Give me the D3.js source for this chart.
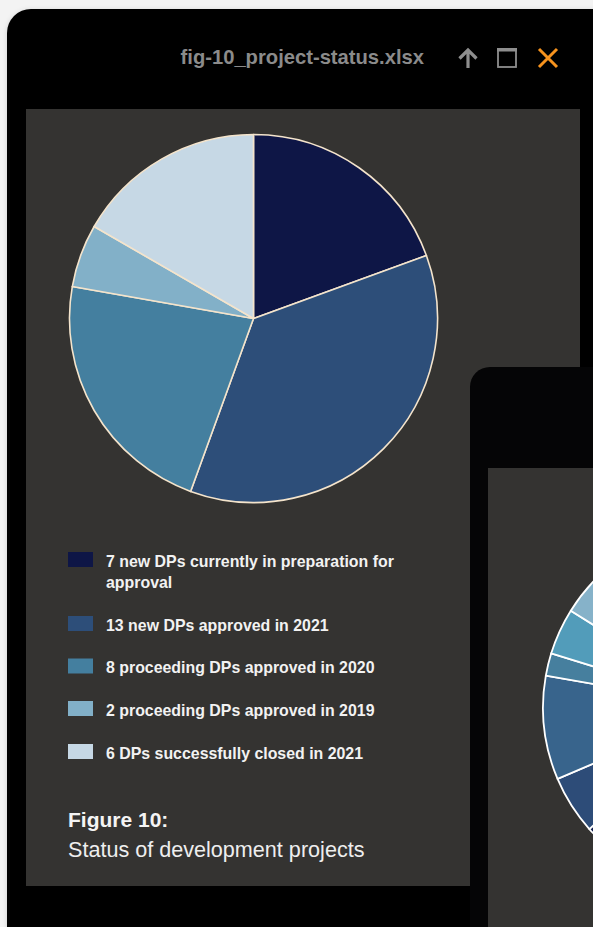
<!DOCTYPE html>
<html>
<head>
<meta charset="utf-8">
<script src="https://cdn.jsdelivr.net/npm/d3@7"></script>
<style>
  html, body { margin: 0; padding: 0; background: #f3f3f3; }
  svg { display: block; }
</style>
</head>
<body>
<div id="chart"></div>
<script>
// Project status counts (Figure 10)
const categories = [
  "7 new DPs currently in preparation for approval",
  "13 new DPs approved in 2021",
  "8 proceeding DPs approved in 2020",
  "2 proceeding DPs approved in 2019",
  "6 DPs successfully closed in 2021"
];
const values = [7, 13, 8, 2, 6];
const colors = ["#0e1646", "#2d4e79", "#447f9f", "#82b0c8", "#c6d8e5"];

// Shares (percent) of the chart in the overlapping second window
const secondValues = [20, 16, 27.4, 5.2, 9.2, 2, 4.1, 16.1];
const secondColors = ["#c6d8e5", "#0e1646", "#13204f", "#2d4c78", "#38648c", "#467f9e", "#529cba", "#86b2c9"];

const fileName = "fig-10_project-status.xlsx";
const figureTitle = "Figure 10:";
const figureSubtitle = "Status of development projects";

const W = 593, H = 927;
const svg = d3.select("#chart").append("svg")
  .attr("width", W).attr("height", H)
  .attr("viewBox", `0 0 ${W} ${H}`);

const defs = svg.append("defs");
const sh = defs.append("filter").attr("id", "shadow").attr("x", "-10%").attr("y", "-10%").attr("width", "120%").attr("height", "120%");
sh.append("feDropShadow").attr("dx", 0).attr("dy", 1).attr("stdDeviation", 2.5).attr("flood-color", "#000").attr("flood-opacity", 0.15);

// Main window frame
svg.append("rect")
  .attr("x", 7).attr("y", 9).attr("width", 640).attr("height", 950)
  .attr("rx", 24).attr("fill", "#050506").attr("filter", "url(#shadow)");

// Title bar: file name and window controls
svg.append("text")
  .attr("x", 424).attr("y", 64)
  .attr("text-anchor", "end")
  .attr("font-family", "'Liberation Sans', Arial, Helvetica, sans-serif")
  .attr("font-weight", "bold").attr("font-size", 20.2)
  .attr("fill", "#8b8b8b")
  .text(fileName);

const ctrl = svg.append("g");
// up arrow
ctrl.append("path")
  .attr("d", "M468,68 L468,50 M459.5,58.5 L468,50 L476.5,58.5")
  .attr("fill", "none").attr("stroke", "#8e8e8e").attr("stroke-width", 3.2)
  .attr("stroke-linejoin", "miter");
// maximise box
ctrl.append("rect")
  .attr("x", 498).attr("y", 49).attr("width", 18).attr("height", 18)
  .attr("fill", "none").attr("stroke", "#8e8e8e").attr("stroke-width", 1.8);
ctrl.append("rect")
  .attr("x", 497).attr("y", 48).attr("width", 20).attr("height", 3.5)
  .attr("fill", "#8e8e8e");
// close cross
ctrl.append("path")
  .attr("d", "M539,49 L557,67 M557,49 L539,67")
  .attr("stroke", "#f7931e").attr("stroke-width", 3);

// Main content panel
svg.append("rect")
  .attr("x", 26).attr("y", 109).attr("width", 554).attr("height", 777)
  .attr("fill", "#343331");

// Pie
const pie = d3.pie().sort(null).value(d => d);
const cx = 253.5, cy = 318.5, R = 184;
const arc = d3.arc().innerRadius(0).outerRadius(R);

svg.append("g")
  .attr("transform", `translate(${cx},${cy})`)
  .selectAll("path")
  .data(pie(values))
  .join("path")
  .attr("d", arc)
  .attr("fill", (d, i) => colors[i])
  .attr("stroke", "#f4e4cc")
  .attr("stroke-width", 1.6)
  .attr("stroke-linejoin", "round");

// Legend
const legendFont = "'Liberation Sans', Arial, Helvetica, sans-serif";
const legendTops = [552, 616, 658.5, 701, 744];
const legend = svg.append("g");
const wrapWidth = 300;

categories.forEach((label, i) => {
  const g = legend.append("g");
  g.append("rect")
    .attr("x", 68).attr("y", legendTops[i])
    .attr("width", 25).attr("height", 15)
    .attr("fill", colors[i]);
  const t = g.append("text")
    .attr("x", 106).attr("y", legendTops[i] + 14.5)
    .attr("font-family", legendFont)
    .attr("font-weight", "bold").attr("font-size", 15.9)
    .attr("fill", "#f2f2f2");
  // word wrap
  const words = label.split(" ");
  let line = [];
  let tspan = t.append("tspan").attr("x", 106).attr("dy", 0);
  words.forEach(w => {
    line.push(w);
    tspan.text(line.join(" "));
    if (tspan.node().getComputedTextLength() > wrapWidth && line.length > 1) {
      line.pop();
      tspan.text(line.join(" "));
      line = [w];
      tspan = t.append("tspan").attr("x", 106).attr("dy", 21).text(w);
    }
  });
});

// Caption
svg.append("text")
  .attr("x", 68).attr("y", 827)
  .attr("font-family", legendFont).attr("font-weight", "bold")
  .attr("font-size", 21).attr("fill", "#f4f4f4")
  .text(figureTitle);
svg.append("text")
  .attr("x", 68).attr("y", 857)
  .attr("font-family", legendFont)
  .attr("font-size", 21.6).attr("fill", "#eeeeee")
  .text(figureSubtitle);

// Second, overlapping window
svg.append("rect")
  .attr("x", 470).attr("y", 367).attr("width", 300).attr("height", 700)
  .attr("rx", 20).attr("fill", "#050506");
svg.append("rect")
  .attr("x", 488).attr("y", 468).attr("width", 200).attr("height", 600)
  .attr("fill", "#343331");

const arc2 = d3.arc().innerRadius(0).outerRadius(182.5);
svg.append("g")
  .attr("transform", "translate(725.5,707.5)")
  .selectAll("path")
  .data(pie(secondValues))
  .join("path")
  .attr("d", arc2)
  .attr("fill", (d, i) => secondColors[i])
  .attr("stroke", "#ffffff")
  .attr("stroke-width", 1.8)
  .attr("stroke-linejoin", "round");
</script>
</body>
</html>
